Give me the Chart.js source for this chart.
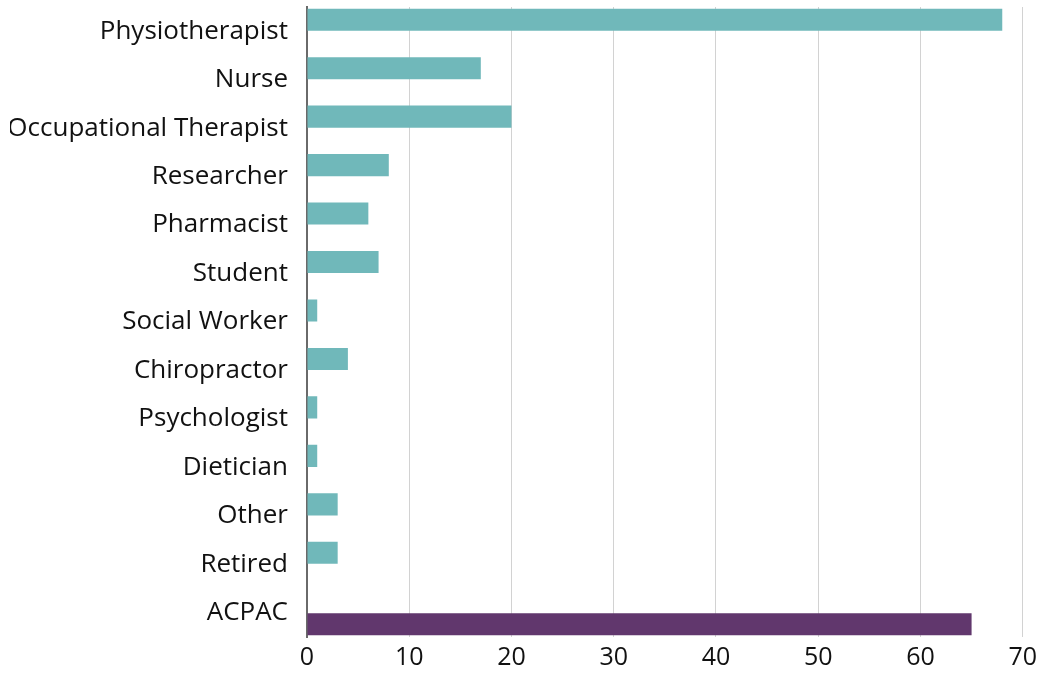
<!DOCTYPE html>
<html>
<head>
<meta charset="utf-8">
<script src="https://cdn.jsdelivr.net/npm/chart.js@4"></script>
<style>
  body { margin: 0; background: #fff; }
  #wrap { width: 1043px; height: 673px; position: relative; }
</style>
</head>
<body>
<div id="wrap"><canvas id="roleChart"></canvas></div>
<script>
const categories = [
  'Physiotherapist', 'Nurse', 'Occupational Therapist', 'Researcher',
  'Pharmacist', 'Student', 'Social Worker', 'Chiropractor',
  'Psychologist', 'Dietician', 'Other', 'Retired', 'ACPAC'
];
// respondents by profession (teal) and the ACPAC total (purple)
const professionCounts = [68, 17, 20, 8, 6, 7, 1, 4, 1, 1, 3, 3, null];
const acpacCounts = [null, null, null, null, null, null, null, null, null, null, null, null, 65];
const xTicks = [0, 10, 20, 30, 40, 50, 60, 70];

const ctx = document.getElementById('roleChart');
const myChart = new Chart(ctx, {
  type: 'bar',
  data: {
    labels: categories,
    datasets: [
      {
        label: 'Profession',
        data: professionCounts,
        backgroundColor: '#70B8BA',
        categoryPercentage: 0.95,
        barPercentage: 0.96,
      },
      {
        label: 'ACPAC',
        data: acpacCounts,
        backgroundColor: '#61376D',
        categoryPercentage: 0.95,
        barPercentage: 0.96,
      },
    ],
  },
  options: {
    indexAxis: 'y',
    responsive: true,
    maintainAspectRatio: false,
    animation: false,
    layout: {
      padding: { top: 7, right: 19, bottom: 0, left: 10 },
    },
    plugins: {
      legend: { display: false },
      tooltip: { enabled: false },
    },
    scales: {
      x: {
        min: 0,
        max: 70,
        afterBuildTicks: (axis) => {
          axis.ticks = xTicks.map((v) => ({ value: v }));
        },
        afterFit: (axis) => {
          axis.height = 36;
        },
        border: { display: false },
        grid: {
          color: (c) => (c.index === 0 ? 'rgba(0,0,0,0)' : '#d2d2d2'),
          lineWidth: 1,
          drawTicks: false,
        },
        ticks: {
          padding: 6,
          color: '#111',
          font: { family: 'Open Sans', size: 25 },
        },
      },
      y: {
        afterFit: (axis) => {
          // fixed label column, and no extra room for first/last labels
          axis.width = 297;
          axis.paddingTop = 0;
          axis.paddingBottom = 0;
        },
        border: { display: true, color: '#6a6a6a', width: 2 },
        grid: { display: false, drawTicks: false },
        ticks: {
          padding: 19,
          color: '#111',
          font: { family: 'Open Sans', size: 26 },
        },
      },
    },
  },
});
</script>
</body>
</html>
